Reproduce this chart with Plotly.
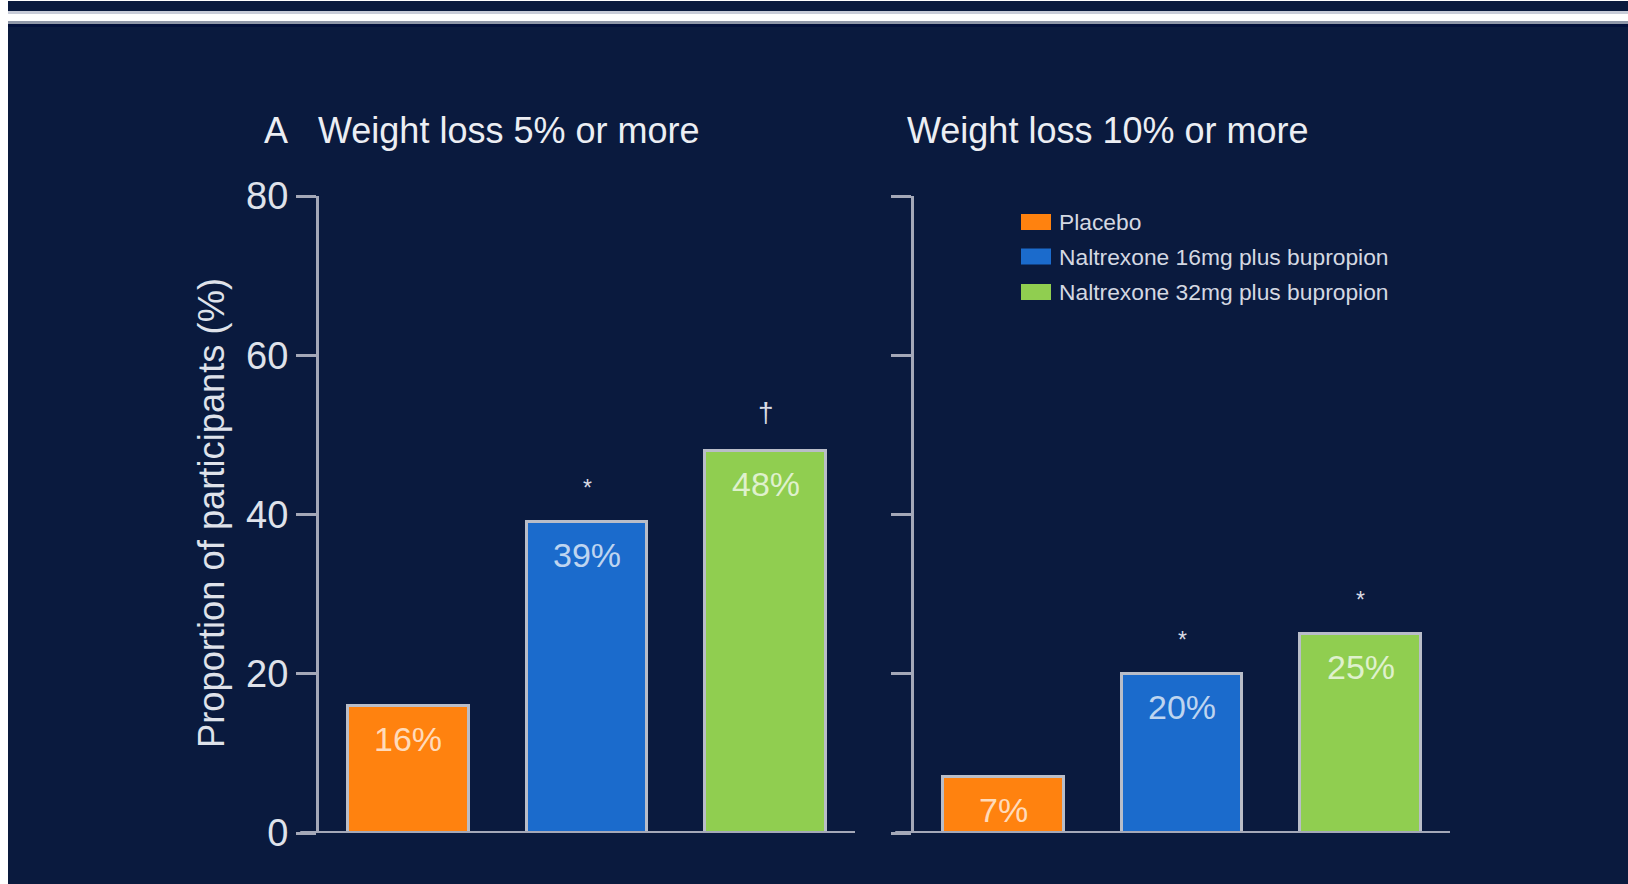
import plotly.graph_objects as go

# ---- data -------------------------------------------------------------
groups = ["Placebo", "Naltrexone 16mg plus bupropion", "Naltrexone 32mg plus bupropion"]
loss_5_pct = [16, 39, 48]      # share of participants losing >=5% of weight
loss_10_pct = [7, 20, 25]      # share of participants losing >=10% of weight
sig_5 = ["", "*", "\u2020"]    # significance marks above bars
sig_10 = ["", "*", "*"]
y_ticks = [0, 20, 40, 60, 80]

panel_titles = ["Weight loss 5% or more", "Weight loss 10% or more"]
panel_letter = "A"
y_title = "Proportion of participants (%)"

# ---- styling ----------------------------------------------------------
W, H = 1628, 884
NAVY = "#0a1a3e"
BAR_COLORS = ["#ff820f", "#1b6bcc", "#90ce50"]
OUTLINE = "#b9bdc8"
AXIS = "#a4a8b8"
TEXT = "#eceef3"
FONT = "Liberation Sans, Arial, sans-serif"


def px_x(x):
    return x / W


def px_y(y):
    return 1 - y / H


y_dom = [px_y(833), px_y(196)]
x_dom_left = [px_x(319), px_x(855)]
x_dom_right = [px_x(914), px_x(1450)]

fig = go.Figure()

panels = [
    ("x", "y", loss_5_pct, sig_5, "x domain"),
    ("x2", "y2", loss_10_pct, sig_10, "x2 domain"),
]

for xa, ya, vals, sigs, dom in panels:
    fig.add_trace(go.Bar(
        x=groups, y=vals, xaxis=xa, yaxis=ya,
        width=0.675,
        marker=dict(color=BAR_COLORS, line=dict(color=OUTLINE, width=3)),
        showlegend=False, hoverinfo="skip",
    ))
    for g, v, s in zip(groups, vals, sigs):
        # value label inside the top of each bar
        fig.add_annotation(
            x=g, y=v, xref=xa, yref=ya, text=f"{v}%", showarrow=False,
            yanchor="middle", yshift=-33,
            font=dict(family=FONT, size=34, color="rgba(255,255,255,0.72)"),
        )
        if s:
            is_dagger = s == "\u2020"
            fig.add_annotation(
                x=g, y=v, xref=xa, yref=ya, text=s, showarrow=False,
                yanchor="middle", yshift=38 if is_dagger else 34,
                font=dict(family=FONT, size=28 if is_dagger else 23, color="#d8dbe4"),
            )
    # baseline extends slightly left of the vertical axis
    fig.add_shape(type="line", xref=dom, yref=ya, x0=-0.035, x1=1.0, y0=0, y1=0,
                  line=dict(color=AXIS, width=4))

common_y = dict(
    range=[0, 80], domain=y_dom, tickvals=y_ticks, ticks="outside", ticklen=20,
    tickwidth=3, tickcolor=AXIS, showline=True, linecolor=AXIS, linewidth=3,
    showgrid=False, zeroline=False, fixedrange=True, automargin=False,
)
common_x = dict(
    range=[-0.5, 2.5], showticklabels=False, ticks="", showline=False,
    showgrid=False, zeroline=False, fixedrange=True, automargin=False,
)

fig.update_layout(
    width=W, height=H,
    margin=dict(l=0, r=0, t=0, b=0, pad=0, autoexpand=False),
    paper_bgcolor=NAVY, plot_bgcolor="rgba(0,0,0,0)",
    font=dict(family=FONT, color=TEXT),
    bargap=0,
    showlegend=False,
    xaxis=dict(domain=x_dom_left, anchor="y", **common_x),
    xaxis2=dict(domain=x_dom_right, anchor="y2", **common_x),
    yaxis=dict(anchor="x", showticklabels=True,
               tickfont=dict(family=FONT, size=38, color="#dfe2ea"), **common_y),
    yaxis2=dict(anchor="x2", showticklabels=False, **common_y),
)

# panel titles
fig.add_annotation(x=px_x(262), y=px_y(130), xref="paper", yref="paper", text=panel_letter,
                   showarrow=False, xanchor="left", yanchor="middle",
                   font=dict(family=FONT, size=36, color=TEXT))
fig.add_annotation(x=px_x(316), y=px_y(130), xref="paper", yref="paper", text=panel_titles[0],
                   showarrow=False, xanchor="left", yanchor="middle",
                   font=dict(family=FONT, size=36, color=TEXT))
fig.add_annotation(x=px_x(905), y=px_y(130), xref="paper", yref="paper", text=panel_titles[1],
                   showarrow=False, xanchor="left", yanchor="middle",
                   font=dict(family=FONT, size=36, color=TEXT))

# y-axis title
fig.add_annotation(x=px_x(211), y=px_y(513), xref="paper", yref="paper", text=y_title,
                   showarrow=False, textangle=-90, xanchor="center", yanchor="middle",
                   font=dict(family=FONT, size=36.3, color="#dfe2ea"))

# legend (swatch + label per group)
legend_rows = [222, 256.5, 292]
for g, c, yc in zip(groups, BAR_COLORS, legend_rows):
    fig.add_shape(type="rect", xref="paper", yref="paper",
                  x0=px_x(1021), x1=px_x(1051), y0=px_y(yc + 8), y1=px_y(yc - 8),
                  fillcolor=c, line=dict(width=0))
    fig.add_annotation(x=px_x(1057), y=px_y(yc), xref="paper", yref="paper", text=g,
                       showarrow=False, xanchor="left", yanchor="middle",
                       font=dict(family=FONT, size=22.8, color="#d4d8e2"))

# page frame: top rule and left edge
frame = [
    (0, 8, 0, H, "#ffffff"),
    (0, W, 0, 1, "#ffffff"),
    (8, W, 11, 14, "#c8ccd8"),
    (0, W, 14, 21, "#ffffff"),
    (8, W, 21, 24, "#9098a8"),
    (8, W, 24, 27, "#02103a"),
]
for x0, x1, y0, y1, col in frame:
    fig.add_shape(type="rect", xref="paper", yref="paper",
                  x0=px_x(x0), x1=px_x(x1), y0=px_y(y1), y1=px_y(y0),
                  fillcolor=col, line=dict(width=0), layer="below")

fig.write_html("out.html")
